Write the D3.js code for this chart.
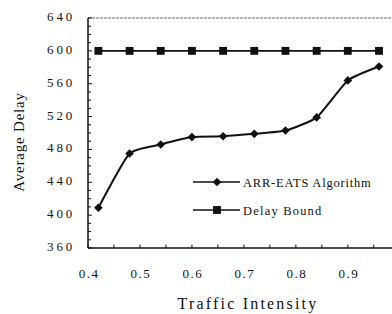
<!DOCTYPE html>
<html lang="en">
<head>
<meta charset="UTF-8">
<title>Average Delay vs Traffic Intensity</title>
<script src="https://d3js.org/d3.v7.min.js"></script>
<style>
  body { margin: 0; background: #fff; }
  svg text { font-family: "Times New Roman", Times, "Liberation Serif", "DejaVu Serif", serif; fill: #111; }
</style>
</head>
<body>
<div id="chart"></div>
<script>
// data
const traffic = [0.42, 0.48, 0.54, 0.60, 0.66, 0.72, 0.78, 0.84, 0.90, 0.96];
const arrEats = [409, 475, 486, 495, 496, 499, 503, 519, 564, 581];
const delayBound = [600, 600, 600, 600, 600, 600, 600, 600, 600, 600];
const xTicks = [0.4, 0.5, 0.6, 0.7, 0.8, 0.9];
const yTicks = [360, 400, 440, 480, 520, 560, 600, 640];
const seriesNames = ["ARR-EATS Algorithm", "Delay Bound"];

const W = 392, H = 314;
const plotL = 88, plotR = 392, plotT = 18, plotB = 248;

const svg = d3.select("#chart").append("svg")
  .attr("width", W).attr("height", H);

const x = d3.scaleLinear().domain([0.4, 0.985]).range([plotL, plotR]);
const y = d3.scaleLinear().domain([360, 640]).range([plotB, plotT]);

// top frame line (greyish, like the scan)
svg.append("line")
  .attr("x1", plotL).attr("x2", plotR).attr("y1", plotT).attr("y2", plotT)
  .attr("stroke", "#666").attr("stroke-width", 1.2).attr("stroke-dasharray", "3,1");

// minor / major ticks, pointing inward
const xMinor = d3.range(0.4, 0.96, 0.05);
svg.append("g").selectAll("line").data(xMinor).join("line")
  .attr("x1", d => x(d)).attr("x2", d => x(d))
  .attr("y1", plotB).attr("y2", plotB - 3.5)
  .attr("stroke", "#111").attr("stroke-width", 1);

const yMinor = d3.range(360, 641, 10);
svg.append("g").selectAll("line").data(yMinor).join("line")
  .attr("x1", plotL).attr("x2", d => plotL + (d % 40 === 0 ? 4 : 3))
  .attr("y1", d => y(d)).attr("y2", d => y(d))
  .attr("stroke", "#111").attr("stroke-width", 1);

// axis lines
svg.append("line").attr("x1", plotL).attr("x2", plotL).attr("y1", plotT).attr("y2", plotB)
  .attr("stroke", "#111").attr("stroke-width", 1.5);
svg.append("line").attr("x1", plotL).attr("x2", plotR).attr("y1", plotB).attr("y2", plotB)
  .attr("stroke", "#111").attr("stroke-width", 1.5);

// tick labels
svg.append("g").selectAll("text").data(yTicks).join("text")
  .attr("x", 75).attr("y", d => y(d) + 3)
  .attr("text-anchor", "end")
  .style("font-size", "13px").style("letter-spacing", "2.8px")
  .text(d => d);

svg.append("g").selectAll("text").data(xTicks).join("text")
  .attr("x", d => x(d) + 1).attr("y", 278)
  .attr("text-anchor", "middle")
  .style("font-size", "13px").style("letter-spacing", "1.5px")
  .text(d => d.toFixed(1));

// axis titles
svg.append("text")
  .attr("transform", "translate(24,142) rotate(-90)")
  .attr("text-anchor", "middle")
  .style("font-size", "15px").style("letter-spacing", "0.8px")
  .text("Average Delay");

svg.append("text")
  .attr("x", 248).attr("y", 309)
  .attr("text-anchor", "middle")
  .style("font-size", "16px").style("letter-spacing", "2.2px")
  .text("Traffic Intensity");

// series
const arrLine = d3.line().x((d, i) => x(traffic[i])).y(d => y(d))
  .curve(d3.curveCardinal.tension(0.5));
const boundLine = d3.line().x((d, i) => x(traffic[i])).y(d => y(d));

svg.append("path").datum(delayBound)
  .attr("d", boundLine).attr("fill", "none")
  .attr("stroke", "#111").attr("stroke-width", 1.6);

svg.append("path").datum(arrEats)
  .attr("d", arrLine).attr("fill", "none")
  .attr("stroke", "#111").attr("stroke-width", 2);

const diamond = d3.symbol().type(d3.symbolDiamond2).size(48);
const square = d3.symbol().type(d3.symbolSquare).size(62);

svg.append("g").selectAll("path").data(arrEats).join("path")
  .attr("d", diamond)
  .attr("transform", (d, i) => `translate(${x(traffic[i])},${y(d)})`)
  .attr("fill", "#111");

svg.append("g").selectAll("path").data(delayBound).join("path")
  .attr("d", square)
  .attr("transform", (d, i) => `translate(${x(traffic[i])},${y(d)})`)
  .attr("fill", "#111");

// legend
const legY = [182, 210];
const leg = svg.append("g");
leg.selectAll("line").data(seriesNames).join("line")
  .attr("x1", 193).attr("x2", 240)
  .attr("y1", (d, i) => legY[i]).attr("y2", (d, i) => legY[i])
  .attr("stroke", "#111").attr("stroke-width", 1.6);
leg.append("path").attr("d", diamond)
  .attr("transform", `translate(217,${legY[0]})`).attr("fill", "#111");
leg.append("path").attr("d", square)
  .attr("transform", `translate(217,${legY[1]})`).attr("fill", "#111");
leg.selectAll("text").data(seriesNames).join("text")
  .attr("x", 243).attr("y", (d, i) => legY[i] + 4.5)
  .style("font-size", "12.5px")
  .style("letter-spacing", (d, i) => i === 0 ? "0.8px" : "1.2px")
  .text(d => d);
</script>
</body>
</html>
